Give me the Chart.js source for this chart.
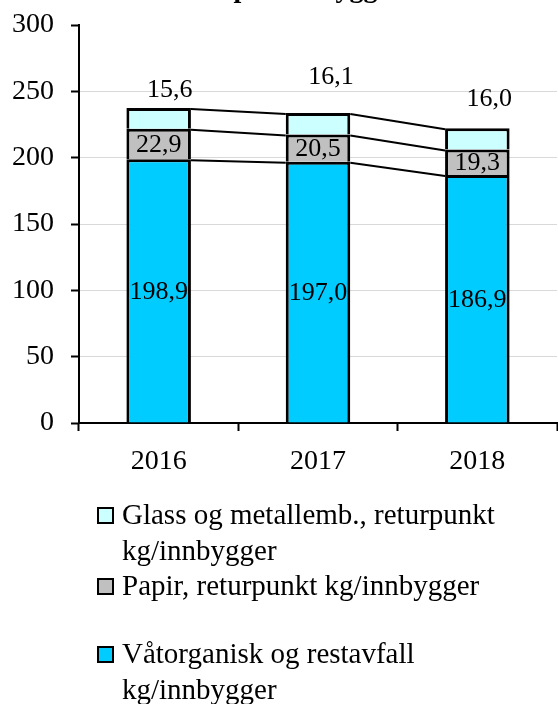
<!DOCTYPE html>
<html>
<head>
<meta charset="utf-8">
<script src="https://cdn.jsdelivr.net/npm/chart.js@4"></script>
<style>
  html, body { margin: 0; padding: 0; background: #fff; }
  #wrap { width: 558px; height: 704px; }
</style>
</head>
<body>
<div id="wrap"><canvas id="avfallChart" width="558" height="704"></canvas></div>
<script>
// kg per innbygger, per år
const years = ['2016', '2017', '2018'];
const restavfall = [198.9, 197.0, 186.9];
const papir = [22.9, 20.5, 19.3];
const glassMetall = [15.6, 16.1, 16.0];

const labelRest = 'Våtorganisk og restavfall kg/innbygger';
const labelPapir = 'Papir, returpunkt kg/innbygger';
const labelGlass = 'Glass og metallemb., returpunkt kg/innbygger';

const FONT = '"Liberation Serif", "Times New Roman", serif';

// the glass labels sit above the stacks, nudged a bit
const glassLabelShift = [[11, -18], [13, -36], [12, -29]];

const fmt = v => v.toFixed(1).replace('.', ',');

// value labels: centred in the lower segments, above the top one
const valueLabels = {
  id: 'valueLabels',
  afterDatasetsDraw(chart) {
    const ctx = chart.ctx;
    ctx.save();
    ctx.font = '26px ' + FONT;
    ctx.fillStyle = '#000';
    ctx.textAlign = 'center';
    ctx.textBaseline = 'middle';
    chart.data.datasets.forEach((ds, di) => {
      const meta = chart.getDatasetMeta(di);
      meta.data.forEach((bar, i) => {
        const v = ds.data[i];
        if (di === 2) {
          const s = glassLabelShift[i];
          ctx.fillText(fmt(v), bar.x + s[0], bar.y + s[1]);
        } else {
          ctx.fillText(fmt(v), bar.x, (bar.y + bar.base) / 2 + 1);
        }
      });
    });
    ctx.restore();
  }
};

// series lines joining the segment tops between neighbouring bars
const seriesLines = {
  id: 'seriesLines',
  afterDatasetsDraw(chart) {
    const ctx = chart.ctx;
    ctx.save();
    ctx.strokeStyle = '#000';
    ctx.lineWidth = 2;
    chart.data.datasets.forEach((ds, di) => {
      const bars = chart.getDatasetMeta(di).data;
      for (let i = 0; i < bars.length - 1; i++) {
        const a = bars[i], b = bars[i + 1];
        ctx.beginPath();
        ctx.moveTo(a.x + a.width / 2, a.y + 1);
        ctx.lineTo(b.x - b.width / 2, b.y + 1);
        ctx.stroke();
      }
    });
    ctx.restore();
  }
};

// title sits mostly above the canvas edge
const topTitle = {
  id: 'topTitle',
  afterDraw(chart) {
    const ctx = chart.ctx;
    const area = chart.chartArea;
    ctx.save();
    ctx.font = 'bold 28px ' + FONT;
    ctx.fillStyle = '#000';
    ctx.textAlign = 'center';
    ctx.textBaseline = 'alphabetic';
    ctx.fillText('per innbygger', (area.left + area.right) / 2, -3);
    ctx.restore();
  }
};

// legend below the plot, top series first, wrapped text
const legendTops = [515, 586, 654];
const bottomLegend = {
  id: 'bottomLegend',
  afterDraw(chart) {
    const ctx = chart.ctx;
    const boxX = 98, textX = 122, maxW = 400, lineH = 36;
    ctx.save();
    ctx.font = '29px ' + FONT;
    ctx.textAlign = 'left';
    ctx.textBaseline = 'middle';
    const order = chart.data.datasets.map((d, i) => i).reverse();
    order.forEach((di, n) => {
      const ds = chart.data.datasets[di];
      const y0 = legendTops[n];
      ctx.fillStyle = ds.backgroundColor;
      ctx.fillRect(boxX, y0 - 7, 15, 15);
      ctx.strokeStyle = '#000';
      ctx.lineWidth = 2;
      ctx.strokeRect(boxX, y0 - 7, 15, 15);
      // word wrap
      const words = ds.label.split(' ');
      const lines = [];
      let cur = '';
      words.forEach(w => {
        const t = cur ? cur + ' ' + w : w;
        if (ctx.measureText(t).width > maxW && cur) {
          lines.push(cur);
          cur = w;
        } else {
          cur = t;
        }
      });
      lines.push(cur);
      ctx.fillStyle = '#000';
      lines.forEach((l, k) => ctx.fillText(l, textX, y0 + k * lineH + 1));
    });
    ctx.restore();
  }
};

const ctx = document.getElementById('avfallChart').getContext('2d');
new Chart(ctx, {
  type: 'bar',
  data: {
    labels: years,
    datasets: [
      { label: labelRest, data: restavfall, backgroundColor: '#00CCFF' },
      { label: labelPapir, data: papir, backgroundColor: '#C0C0C0' },
      { label: labelGlass, data: glassMetall, backgroundColor: '#CCFFFF' }
    ].map(d => Object.assign(d, {
      borderColor: '#000',
      borderWidth: 3,
      borderSkipped: 'start',
      categoryPercentage: 1,
      barPercentage: 0.405
    }))
  },
  options: {
    responsive: false,
    devicePixelRatio: 1,
    animation: false,
    layout: { padding: { top: 25, right: 1, left: 0, bottom: 0 } },
    plugins: {
      legend: { display: false },
      title: { display: false },
      tooltip: { enabled: false }
    },
    scales: {
      x: {
        stacked: true,
        afterFit(scale) {
          scale.height = 281;
          scale.paddingLeft = 0;
          scale.paddingRight = 0;
        },
        grid: {
          offset: true,
          drawOnChartArea: false,
          tickLength: 8,
          tickColor: '#000',
          tickWidth: 2
        },
        border: { color: '#000', width: 2 },
        ticks: {
          color: '#000',
          font: { family: FONT, size: 28 },
          padding: 14
        }
      },
      y: {
        stacked: true,
        min: 0,
        max: 300,
        afterFit(scale) {
          scale.width = 79;
          scale.paddingTop = 0;
          scale.paddingBottom = 0;
        },
        grid: {
          color: c => (c.tick && c.tick.value === 300) ? 'rgba(0,0,0,0)' : '#D9D9D9',
          lineWidth: 1,
          tickLength: 8,
          tickColor: '#000',
          tickWidth: 2
        },
        border: { color: '#000', width: 2 },
        ticks: {
          stepSize: 50,
          color: '#000',
          font: { family: FONT, size: 28 },
          padding: 17
        }
      }
    }
  },
  plugins: [seriesLines, valueLabels, topTitle, bottomLegend]
});
</script>
</body>
</html>
